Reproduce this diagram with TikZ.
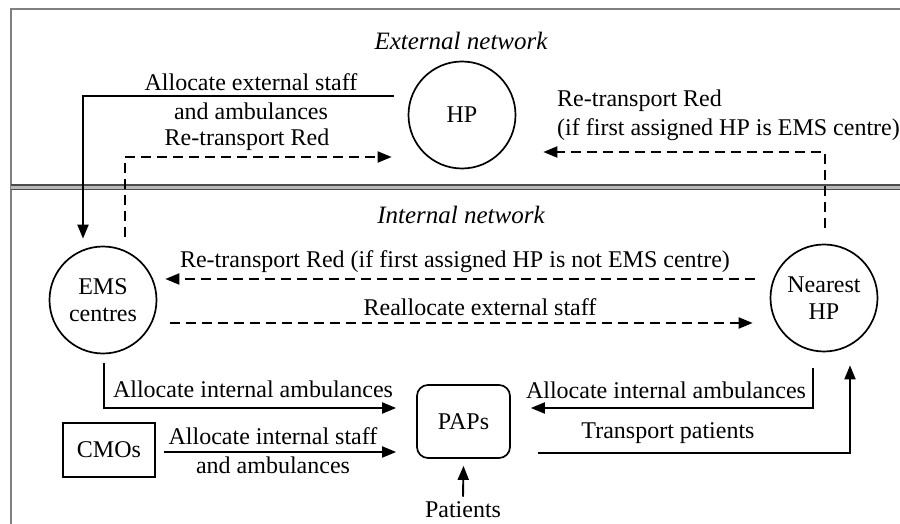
\documentclass[tikz,border=0pt]{standalone}
\usepackage{fontspec}
\setmainfont{Liberation Serif}
\usetikzlibrary{arrows.meta}
\begin{document}
\begin{tikzpicture}[x=1pt,y=-1pt,
  every node/.style={font=\fontsize{24}{29}\selectfont, inner sep=0pt},
  place/.style={draw, circle, line width=1.7pt, minimum size=107pt, align=center},
  boxed/.style={draw, line width=1.7pt},
  flow/.style={line width=1.9pt, -{Triangle[length=14pt,width=11pt]}},
  dflow/.style={flow, dash pattern=on 10pt off 6pt},
  netlabel/.style={font=\fontsize{25}{29}\selectfont\itshape},
  frame/.style={gray, line width=1.3pt},
  divider/.style={black!70, line width=1.4pt}
]
\useasboundingbox (0,0) rectangle (900,524);

% frame and the divider between the two networks
\draw[frame] (11,524) -- (11,9) -- (900,9);
\fill[gray!55] (11,185) rectangle (900,189.5);
\draw[divider] (11,185) -- (900,185);
\draw[divider] (11,189.5) -- (900,189.5);

\node[netlabel] (ext) at (461,41) {External network};
\node[netlabel] (int) at (461,215) {Internal network};

% facilities
\node[place] (hp) at (462,115) {HP};
\node[place] (ems) at (103,300) {EMS\\[-2pt]centres};
\node[place] (nhp) at (824,298) {Nearest\\[-2pt]HP};
\node[boxed, rounded corners=11pt, minimum width=93pt, minimum height=73pt] (paps) at (463.5,421.5) {PAPs};
\node[boxed, minimum width=92pt, minimum height=54pt] (cmo) at (109,450) {CMOs};
\node (pat) at (463,510) {Patients};

% external network flows
\draw[flow] ([shift={(-14,-19)}]hp.west) -| ([shift={(-20,-7)}]ems.north);
\node[align=center] (l1) at (251,97) {Allocate external staff\\and ambulances};
\draw[dflow] ([shift={(22,-9)}]ems.north) |- ([shift={(-16,42)}]hp.west);
\node (l2) at (247,140) {Re-transport Red};
\draw[dflow] ([shift={(1,-16)}]nhp.north) |- ([shift={(27,37)}]hp.east);
\node[align=left, anchor=west] (l3) at (557,115) {Re-transport Red\\(if first assigned HP is EMS centre)};

% internal network flows
\draw[dflow] ([shift={(-15,-19)}]nhp.west) -- ([shift={(8,-21)}]ems.east);
\node (l4) at (455,262) {Re-transport Red (if first assigned HP is not EMS centre)};
\draw[dflow] ([shift={(13,23)}]ems.east) -- ([shift={(-17,25)}]nhp.west);
\node (l5) at (480,307) {Reallocate external staff};

\draw[flow] ([shift={(1,9)}]ems.south) |- ([shift={(-20,-13.5)}]paps.west);
\node (l6) at (253,389) {Allocate internal ambulances};
\draw[flow] ([shift={(8,2)}]cmo.east) -- ([shift={(-20,30.5)}]paps.west);
\node[align=center] (l7) at (273,451) {Allocate internal staff\\and ambulances};
\draw[flow] ([shift={(-11,16)}]nhp.south) |- ([shift={(20,-13.5)}]paps.east);
\node (l8) at (666,390) {Allocate internal ambulances};
\draw[flow] ([shift={(27,31.5)}]paps.east) -| ([shift={(26,13)}]nhp.south);
\node (l9) at (668,433) {Transport patients};
\draw[flow] ([shift={(0,-5)}]pat.north) -- ([shift={(0,7)}]paps.south);
\end{tikzpicture}
\end{document}
